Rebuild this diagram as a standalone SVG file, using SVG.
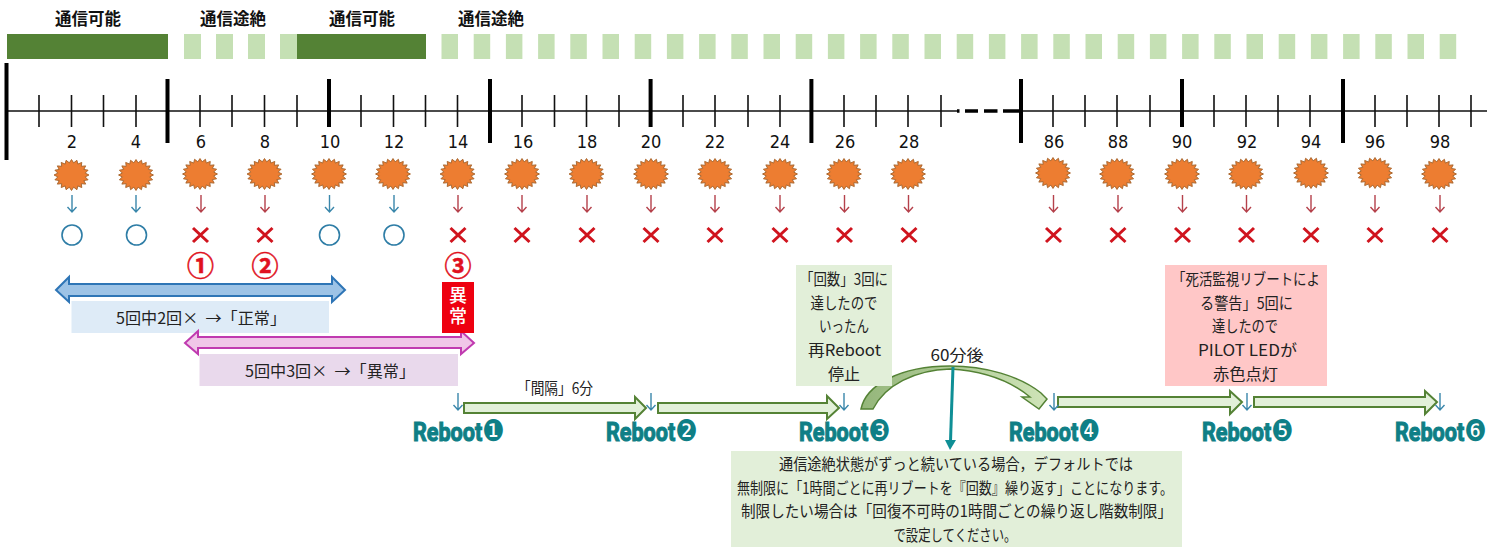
<svg xmlns="http://www.w3.org/2000/svg" width="1502" height="548" viewBox="0 0 1502 548">
<style>
text{font-family:"Noto Sans CJK JP","Noto Sans",sans-serif;fill:#222;text-anchor:middle;dominant-baseline:central;font-size:15.5px}
.hd{font-weight:700;font-size:16.5px;fill:#111}
.num{font-family:"DejaVu Sans",sans-serif;font-stretch:condensed;font-size:18px;fill:#111}
.rb{font-family:"Liberation Sans Narrow","Roboto",sans-serif;font-weight:700;font-size:26px;fill:#0f7f86;stroke:#0f7f86;stroke-width:1.1;text-anchor:start;dominant-baseline:alphabetic}
.rn{font-family:"DejaVu Sans",sans-serif;font-weight:400;font-size:30px;stroke:none}
.no{font-weight:700;font-size:27px;fill:#e01020;stroke:#e01020;stroke-width:.5}
.fl{fill:#fff;font-weight:500;font-size:18px;writing-mode:vertical-rl;letter-spacing:3px}
.dark{fill:#548235}.light{fill:#c5e0b4}
.maj{stroke:#000;stroke-width:4}
.min{stroke:#111;stroke-width:1.6}
.ba{fill:#e2f0d9;stroke:#548235;stroke-width:2}
.ok{fill:none;stroke:#2e7da6;stroke-width:1.6}
.ng{fill:none;stroke:#d0141e;stroke-width:3}
.au{fill:none;stroke:#3a87ab;stroke-width:1.4}
.ad{fill:none;stroke:#b5414b;stroke-width:1.4}
.sun{fill:#ed7d31;stroke:#a5622a;stroke-width:1}
</style>
<defs>
<linearGradient id="curve" x1="0" x2="1" y1="0" y2="0"><stop offset="0" stop-color="#94b67a"/><stop offset="1" stop-color="#cfe4b8"/></linearGradient>
<polygon id="sun" class="sun" transform="scale(.97,.86)" points="18,0 14.1,2.2 17.1,5.6 12.7,6.5 14.6,10.6 10.1,10.1 10.6,14.6 6.5,12.7 5.6,17.1 2.2,14.1 0,18 -2.2,14.1 -5.6,17.1 -6.5,12.7 -10.6,14.6 -10.1,10.1 -14.6,10.6 -12.7,6.5 -17.1,5.6 -14.1,2.2 -18,0 -14.1,-2.2 -17.1,-5.6 -12.7,-6.5 -14.6,-10.6 -10.1,-10.1 -10.6,-14.6 -6.5,-12.7 -5.6,-17.1 -2.2,-14.1 0,-18 2.2,-14.1 5.6,-17.1 6.5,-12.7 10.6,-14.6 10.1,-10.1 14.6,-10.6 12.7,-6.5 17.1,-5.6 14.1,-2.2"/>
<path id="au" class="au" d="M0,0V17M-4.5,12 0,17 4.5,12"/>
<path id="ad" class="ad" d="M0,0V17M-4.5,12 0,17 4.5,12"/>
<circle id="ok" class="ok" r="10"/>
<path id="ng" class="ng" d="M-7.5,-7 7.5,7M-7.5,7 7.5,-7"/>
</defs>
<g id="status-bar">
<text class="hd" x="88" y="18">通信可能</text><text class="hd" x="233" y="18">通信途絶</text><text class="hd" x="362" y="18">通信可能</text><text class="hd" x="491" y="18">通信途絶</text>
<g class="light">
<rect x="184" y="34" width="17" height="25"/><rect x="216" y="34" width="17" height="25"/><rect x="248" y="34" width="17" height="25"/><rect x="280" y="34" width="17" height="25"/>
<rect x="441.5" y="34" width="16.5" height="25"/><rect x="473.7" y="34" width="16.5" height="25"/><rect x="505.9" y="34" width="16.5" height="25"/><rect x="538.1" y="34" width="16.5" height="25"/><rect x="570.3" y="34" width="16.5" height="25"/><rect x="602.5" y="34" width="16.5" height="25"/><rect x="634.7" y="34" width="16.5" height="25"/><rect x="666.9" y="34" width="16.5" height="25"/><rect x="699.1" y="34" width="16.5" height="25"/><rect x="731.3" y="34" width="16.5" height="25"/><rect x="763.5" y="34" width="16.5" height="25"/><rect x="795.7" y="34" width="16.5" height="25"/><rect x="827.9" y="34" width="16.5" height="25"/><rect x="860.1" y="34" width="16.5" height="25"/><rect x="892.3" y="34" width="16.5" height="25"/><rect x="924.5" y="34" width="16.5" height="25"/><rect x="956.7" y="34" width="16.5" height="25"/><rect x="988.9" y="34" width="16.5" height="25"/><rect x="1021.1" y="34" width="16.5" height="25"/><rect x="1053.3" y="34" width="16.5" height="25"/><rect x="1085.5" y="34" width="16.5" height="25"/><rect x="1117.7" y="34" width="16.5" height="25"/><rect x="1149.9" y="34" width="16.5" height="25"/><rect x="1182.1" y="34" width="16.5" height="25"/><rect x="1214.3" y="34" width="16.5" height="25"/><rect x="1246.5" y="34" width="16.5" height="25"/><rect x="1278.7" y="34" width="16.5" height="25"/><rect x="1310.9" y="34" width="16.5" height="25"/><rect x="1343.1" y="34" width="16.5" height="25"/><rect x="1375.3" y="34" width="16.5" height="25"/><rect x="1407.5" y="34" width="16.5" height="25"/><rect x="1439.7" y="34" width="16.5" height="25"/>
</g>
<rect class="dark" x="7" y="34" width="161" height="25"/><rect class="dark" x="297" y="34" width="129" height="25"/>
</g>
<g id="timeline">
<path stroke="#111" stroke-width="1.6" fill="none" d="M7,111H957M1021,111H1487"/>
<path stroke="#000" stroke-width="3.6" fill="none" d="M957,111H959.5M965,111H978M984,111H997.5M1003,111H1021"/>
<path class="maj" fill="none" d="M6.5,63V160M167.5,79V143M329,79V127M490,79V143M650.6,79V127M811.4,79V143M1021,79V143M1182,79V127M1343,79V143"/>
<path class="min" fill="none" d="M39,95V127M71.5,95V127M103.5,95V127M136,95V127M200,95V127M232,95V127M264.5,95V127M297,95V127M361,95V127M393.5,95V127M425.5,95V127M457.5,95V127M522,95V127M554.5,95V127M586.5,95V127M619,95V127M683,95V127M715,95V127M748,95V127M780,95V127M844,95V127M876,95V127M908,95V127M941,95V127M1053,95V127M1085,95V127M1117,95V127M1150,95V127M1214,95V127M1246,95V127M1278,95V127M1310,95V127M1375,95V127M1407,95V127M1439,95V127M1471,95V127"/>
<text class="num" x="72" y="141">2</text><text class="num" x="136" y="141">4</text><text class="num" x="201" y="141">6</text><text class="num" x="265" y="141">8</text><text class="num" x="330" y="141">10</text><text class="num" x="394" y="141">12</text><text class="num" x="458" y="141">14</text><text class="num" x="523" y="141">16</text><text class="num" x="587" y="141">18</text><text class="num" x="651" y="141">20</text><text class="num" x="715" y="141">22</text><text class="num" x="780" y="141">24</text><text class="num" x="845" y="141">26</text><text class="num" x="909" y="141">28</text><text class="num" x="1054" y="141">86</text><text class="num" x="1118" y="141">88</text><text class="num" x="1182" y="141">90</text><text class="num" x="1247" y="141">92</text><text class="num" x="1311" y="141">94</text><text class="num" x="1375" y="141">96</text><text class="num" x="1440" y="141">98</text>
</g>
<g id="checks">
<use href="#sun" x="71.5" y="175"/><use href="#sun" x="136" y="175"/><use href="#sun" x="200" y="174"/><use href="#sun" x="264.5" y="174"/><use href="#sun" x="329" y="174"/><use href="#sun" x="393" y="174"/><use href="#sun" x="457.5" y="174"/><use href="#sun" x="522" y="174"/><use href="#sun" x="586.5" y="174"/><use href="#sun" x="651" y="174"/><use href="#sun" x="715" y="174"/><use href="#sun" x="780" y="174"/><use href="#sun" x="844" y="174"/><use href="#sun" x="908" y="174"/><use href="#sun" x="1053" y="173"/><use href="#sun" x="1117" y="174"/><use href="#sun" x="1182" y="174"/><use href="#sun" x="1246" y="174"/><use href="#sun" x="1311" y="173"/><use href="#sun" x="1375" y="173"/><use href="#sun" x="1439" y="174"/>
<use href="#au" x="72" y="195"/><use href="#au" x="136" y="195"/><use href="#ad" x="201" y="195"/><use href="#ad" x="265" y="195"/><use href="#au" x="329.5" y="195"/><use href="#au" x="394" y="195"/><use href="#ad" x="458" y="195"/><use href="#ad" x="522" y="195"/><use href="#ad" x="587" y="195"/><use href="#ad" x="651" y="195"/><use href="#ad" x="715" y="195"/><use href="#ad" x="780" y="195"/><use href="#ad" x="844.5" y="195"/><use href="#ad" x="908.5" y="195"/><use href="#ad" x="1053.5" y="195"/><use href="#ad" x="1118" y="195"/><use href="#ad" x="1182.5" y="195"/><use href="#ad" x="1246.5" y="195"/><use href="#ad" x="1311" y="195"/><use href="#ad" x="1375" y="195"/><use href="#ad" x="1440" y="195"/>
<use href="#ok" x="72" y="235"/><use href="#ok" x="136.5" y="235"/><use href="#ng" x="200.5" y="235"/><use href="#ng" x="265" y="235"/><use href="#ok" x="329.5" y="235"/><use href="#ok" x="394" y="235"/><use href="#ng" x="458" y="235"/><use href="#ng" x="522" y="235"/><use href="#ng" x="587" y="235"/><use href="#ng" x="651" y="235"/><use href="#ng" x="715" y="235"/><use href="#ng" x="780" y="235"/><use href="#ng" x="844.5" y="235"/><use href="#ng" x="909" y="235"/><use href="#ng" x="1053.5" y="235"/><use href="#ng" x="1118" y="235"/><use href="#ng" x="1182.5" y="235"/><use href="#ng" x="1246.5" y="235"/><use href="#ng" x="1311" y="235"/><use href="#ng" x="1375" y="235"/><use href="#ng" x="1440" y="235"/>
<text class="no" x="200.5" y="264">①</text><text class="no" x="265" y="264">②</text><text class="no" x="458" y="264">③</text>
</g>
<g id="range-normal">
<path fill="#9dc3e6" stroke="#2e75b6" stroke-width="2" d="M56,290 69,277V284H332V277L345,290 332,302V296H69V302Z"/>
<rect x="71.5" y="301" width="257.5" height="32" fill="#deebf7"/>
<text x="201" y="317" textLength="170" lengthAdjust="spacingAndGlyphs">5回中2回×&#160;&#160;→「正常」</text>
</g>
<g id="range-abnormal">
<path fill="#f0c6e8" stroke="#c03ab0" stroke-width="2" d="M185,343 198,331V337H461V331L474,343 461,354V348H198V354Z"/>
<rect x="199.5" y="354" width="258.5" height="32" fill="#e9d9ec"/>
<text x="330" y="370" textLength="170" lengthAdjust="spacingAndGlyphs">5回中3回×&#160;&#160;→「異常」</text>
</g>
<g id="abnormal-flag">
<rect x="442" y="282" width="32" height="51" fill="#ee0010"/>
<text class="fl" x="458" y="307.5">異常</text>
</g>
<g id="connectors">
<path class="ba" d="M464,403H635V397L646,408 635,419V413H464Z"/>
<path class="ba" d="M658,403H827V396L839,408 827,419V413H658Z"/>
<path class="ba" d="M1058,397H1230V391L1242,402 1230,414V407H1058Z"/>
<path class="ba" d="M1254,397H1425V391L1437,402 1425,414V407H1254Z"/>
<path fill="url(#curve)" stroke="#548235" stroke-width="1.5" d="M861,409C866,385 900,366 950,366C985,366 1020,376 1041,393L1047,399 1039,409 1022,397 1030,397C1012,382 985,371 950,369C915,370 885,385 873,409Z"/>
<path fill="none" stroke="#0f8f96" stroke-width="3" d="M953,367 950.5,441"/>
<path fill="#0f8f96" d="M945,440H956L950,450Z"/>
<use href="#au" x="458" y="393"/><use href="#au" x="651" y="393"/><use href="#au" x="844" y="393"/><use href="#au" x="1054" y="393"/><use href="#au" x="1247" y="393"/><use href="#au" x="1440" y="393"/>
</g>
<g id="interval-label"><text x="555" y="387" textLength="76" lengthAdjust="spacingAndGlyphs">「間隔」6分</text></g>
<g id="sixty-label"><text x="957" y="354" textLength="53" lengthAdjust="spacingAndGlyphs">60分後</text></g>
<g id="reboot-1"><text class="rb" transform="translate(413 441) scale(.83 1)">Reboot<tspan class="rn">❶</tspan></text></g>
<g id="reboot-2"><text class="rb" transform="translate(606 441) scale(.83 1)">Reboot<tspan class="rn">❷</tspan></text></g>
<g id="reboot-3"><text class="rb" transform="translate(799 441) scale(.83 1)">Reboot<tspan class="rn">❸</tspan></text></g>
<g id="reboot-4"><text class="rb" transform="translate(1009 441) scale(.83 1)">Reboot<tspan class="rn">❹</tspan></text></g>
<g id="reboot-5"><text class="rb" transform="translate(1202 441) scale(.83 1)">Reboot<tspan class="rn">❺</tspan></text></g>
<g id="reboot-6"><text class="rb" transform="translate(1395 441) scale(.83 1)">Reboot<tspan class="rn">❻</tspan></text></g>
<g id="note-count">
<rect x="796" y="265" width="96" height="121" fill="#e2efd9"/>
<text x="844" y="278" textLength="88" lengthAdjust="spacingAndGlyphs">「回数」3回に</text><text x="844" y="302" textLength="67" lengthAdjust="spacingAndGlyphs">達したので</text><text x="844" y="325" textLength="50" lengthAdjust="spacingAndGlyphs">いったん</text><text x="844.5" y="349" textLength="73" lengthAdjust="spacingAndGlyphs">再Reboot</text><text x="844" y="373" textLength="32" lengthAdjust="spacingAndGlyphs">停止</text>
</g>
<g id="note-led">
<rect x="1165" y="265" width="162" height="121" fill="#ffc7c7"/>
<text x="1246" y="278" textLength="148" lengthAdjust="spacingAndGlyphs">「死活監視リブートによ</text><text x="1246.5" y="302" textLength="93" lengthAdjust="spacingAndGlyphs">る警告」5回に</text><text x="1245" y="325" textLength="66" lengthAdjust="spacingAndGlyphs">達したので</text><text x="1247.5" y="349" textLength="99" lengthAdjust="spacingAndGlyphs">PILOT LEDが</text><text x="1245.5" y="373" textLength="65" lengthAdjust="spacingAndGlyphs">赤色点灯</text>
</g>
<g id="note-default">
<rect x="731" y="451" width="451" height="96" fill="#e2efd9"/>
<text x="956" y="463" textLength="354" lengthAdjust="spacingAndGlyphs">通信途絶状態がずっと続いている場合，デフォルトでは</text>
<text x="955" y="487" textLength="436" lengthAdjust="spacingAndGlyphs">無制限に「1時間ごとに再リブートを『回数』繰り返す」ことになります。</text>
<text x="956.5" y="510" textLength="431" lengthAdjust="spacingAndGlyphs">制限したい場合は「回復不可時の1時間ごとの繰り返し階数制限」</text>
<text x="955" y="534" textLength="123" lengthAdjust="spacingAndGlyphs">で設定してください。</text>
</g>
</svg>
